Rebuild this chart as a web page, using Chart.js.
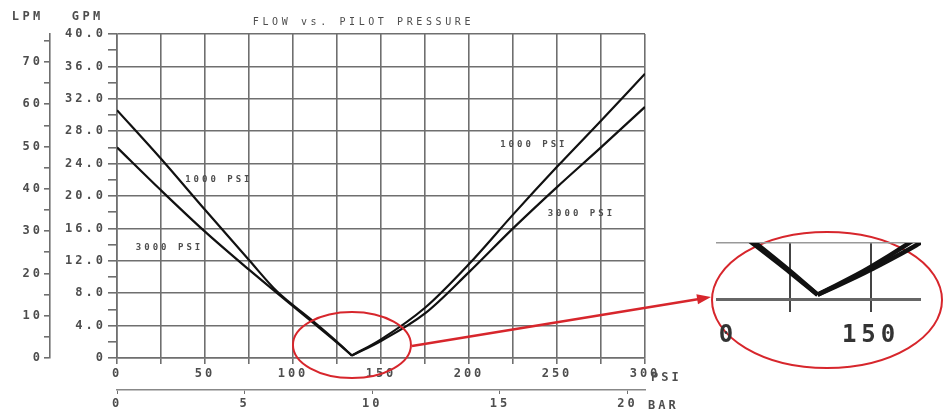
<!DOCTYPE html>
<html>
<head>
<meta charset="utf-8">
<script src="https://cdn.jsdelivr.net/npm/chart.js@4.4.0/dist/chart.umd.min.js"></script>
<style>
  html, body { margin: 0; padding: 0; background: #fff; }
  #wrap { position: relative; width: 944px; height: 417px; overflow: hidden; }
  #main { position: absolute; left: 0; top: 0; }
  #zoomBox { position: absolute; left: 650px; top: 232px; width: 294px; height: 140px;
    clip-path: inset(6px 22px 24px 66px); }
</style>
</head>
<body>
<div id="wrap">
  <canvas id="main" width="944" height="417"></canvas>
  <div id="zoomBox"><canvas id="zoom" width="294" height="140"></canvas></div>
</div>
<script>
// flow (GPM) against pilot pressure (PSI)
const psiPoints = [0, 25, 50, 75, 91, 110, 125, 133.5, 150, 175, 200, 225, 250, 275, 300];
const gpm1000 = [30.6, 24.6, 18.3, 12.1, 8.2, 4.8, 2.0, 0.3, 2.3, 6.2, 11.6, 17.7, 23.6, 29.3, 35.1];
const gpm3000 = [26.0, 20.7, 15.6, 10.9, 8.0, 4.6, 1.9, 0.3, 2.1, 5.5, 10.6, 16.0, 21.1, 26.0, 31.0];
const seriesNames = ["1000 PSI", "3000 PSI"];
const minIndex = 7;           // the V bottom, where both branches meet

const psiMax = 300;
const gpmMax = 40;
const lpmMax = 76.6;          // the LPM scale as printed on the sheet
const psiPerBar = 14.5038;

const GRID = "#6f6f6f";
const TEXT = "#4d4d4d";
const RED = "#d7262c";

Chart.defaults.font.family = "'DejaVu Sans Mono', monospace";
Chart.defaults.color = TEXT;

function toPts(ys, from, to) {
    return psiPoints.slice(from, to).map((p, i) => ({x: p, y: ys[from + i]}));
}

function spaced(ctx, text, x, y, font, sp, align) {
    ctx.save();
    ctx.font = font;
    ctx.letterSpacing = sp + "px";
    ctx.fillStyle = TEXT;
    ctx.textAlign = align || "center";
    ctx.textBaseline = "middle";
    let dx = align === "left" ? 0 : sp / 2;
    ctx.fillText(text, x + dx, y);
    ctx.restore();
}

function letterSpacing(px) {
    return {
        id: "letterSpacing",
        beforeLayout(c) { c.ctx.letterSpacing = px; },
        beforeDraw(c) { c.ctx.letterSpacing = px; }
    };
}

const notes = {
    id: "notes",
    afterDraw(chart) {
        const ctx = chart.ctx;
        const x = chart.scales.x, y = chart.scales.y;

        spaced(ctx, "FLOW vs. PILOT PRESSURE", x.getPixelForValue(139), 22, "10px 'DejaVu Sans Mono'", 3.6);
        spaced(ctx, "LPM", 26, 17, "bold 12px 'DejaVu Sans Mono'", 3.5);
        spaced(ctx, "GPM", 86, 17, "bold 12px 'DejaVu Sans Mono'", 3.5);

        const spots = [[57, 22.0], [29, 13.6], [236, 26.3], [263, 17.8]];
        spots.forEach((s, i) => {
            spaced(ctx, seriesNames[i % 2], x.getPixelForValue(s[0]), y.getPixelForValue(s[1]),
                "bold 9px 'DejaVu Sans Mono'", 3);
        });

        spaced(ctx, "PSI", x.right + 6, x.top + 20, "bold 12px 'DejaVu Sans Mono'", 3, "left");
        spaced(ctx, "BAR", x.right + 3, 406, "bold 12px 'DejaVu Sans Mono'", 3, "left");

        // red call-out round the minimum, and the arrow to the enlargement
        const cx = x.getPixelForValue(133.5), cy = y.getPixelForValue(1.6);
        ctx.save();
        ctx.strokeStyle = RED;
        ctx.fillStyle = RED;
        ctx.lineWidth = 2;
        ctx.beginPath();
        ctx.ellipse(cx, cy, 59, 33, 0, 0, Math.PI * 2);
        ctx.stroke();

        ctx.beginPath();
        ctx.ellipse(827, 300, 115, 68, 0, 0, Math.PI * 2);
        ctx.stroke();

        const x0 = cx + 60, y0 = cy + 1, x1 = 711, y1 = 297;
        const a = Math.atan2(y1 - y0, x1 - x0);
        ctx.lineWidth = 2.5;
        ctx.beginPath();
        ctx.moveTo(x0, y0);
        ctx.lineTo(x1 - 12 * Math.cos(a), y1 - 12 * Math.sin(a));
        ctx.stroke();
        ctx.beginPath();
        ctx.moveTo(x1, y1);
        ctx.lineTo(x1 - 14 * Math.cos(a) + 5 * Math.sin(a), y1 - 14 * Math.sin(a) - 5 * Math.cos(a));
        ctx.lineTo(x1 - 14 * Math.cos(a) - 5 * Math.sin(a), y1 - 14 * Math.sin(a) + 5 * Math.cos(a));
        ctx.closePath();
        ctx.fill();
        ctx.restore();
    }
};

// each curve is drawn as two branches so the bottom of the V stays sharp
function curveSets(name, ys, width) {
    const base = {
        label: name,
        borderColor: "#111",
        borderWidth: width,
        pointRadius: 0,
        cubicInterpolationMode: "monotone",
        xAxisID: "x",
        yAxisID: "y"
    };
    return [
        Object.assign({}, base, {data: toPts(ys, 0, minIndex + 1)}),
        Object.assign({}, base, {data: toPts(ys, minIndex, psiPoints.length)})
    ];
}

const tickFont = {size: 12, weight: "bold", family: "'DejaVu Sans Mono'"};

new Chart(document.getElementById("main"), {
    type: "line",
    data: {
        datasets: [
            ...curveSets(seriesNames[0], gpm1000, 2.2),
            ...curveSets(seriesNames[1], gpm3000, 2.2)
        ]
    },
    options: {
        responsive: false,
        animation: false,
        layout: {padding: {left: 0, top: 34, right: 299, bottom: 0}},
        plugins: {legend: {display: false}, tooltip: {enabled: false}},
        scales: {
            x: {
                type: "linear", position: "bottom", weight: 0,
                min: 0, max: psiMax,
                afterFit: s => { s.height = 32; },
                ticks: {
                    stepSize: 25, autoSkip: false, maxRotation: 0, padding: 3,
                    font: tickFont, color: TEXT,
                    callback: v => (v % 50 === 0 ? String(v) : "")
                },
                grid: {color: GRID, lineWidth: 1.6, tickLength: 6},
                border: {color: GRID, width: 1.6}
            },
            bar: {
                type: "linear", position: "bottom", weight: 1,
                min: 0, max: psiMax / psiPerBar,
                afterFit: s => { s.height = 27; },
                ticks: {
                    stepSize: 5, autoSkip: false, maxRotation: 0, padding: 3, includeBounds: false,
                    font: tickFont, color: TEXT,
                    callback: v => String(v)
                },
                grid: {drawOnChartArea: false, tickLength: 4, color: GRID},
                border: {color: "#888", width: 1.6}
            },
            y: {
                type: "linear", position: "left", weight: 0,
                min: 0, max: gpmMax,
                afterFit: s => { s.width = 67; },
                ticks: {
                    stepSize: 2, autoSkip: false, padding: 2,
                    font: tickFont, color: TEXT,
                    callback: v => (v % 4 === 0 ? (v === 0 ? "0" : v.toFixed(1)) : "")
                },
                grid: {
                    lineWidth: 1.6, tickLength: 9,
                    color: c => (c.tick && c.tick.value % 4 === 0 ? GRID : "rgba(0,0,0,0)"),
                    tickColor: GRID
                },
                border: {color: GRID, width: 1.6}
            },
            lpm: {
                type: "linear", position: "left", weight: 1,
                min: 0, max: lpmMax,
                afterFit: s => { s.width = 50; },
                ticks: {
                    stepSize: 5, autoSkip: false, padding: 1, includeBounds: false,
                    font: tickFont, color: TEXT,
                    callback: v => (v % 10 === 0 ? String(v) : "")
                },
                grid: {drawOnChartArea: false, tickLength: 6, lineWidth: 1.6, color: GRID},
                border: {color: GRID, width: 1.6}
            }
        }
    },
    plugins: [letterSpacing("3px"), notes]
});

// enlargement of the area round the minimum
new Chart(document.getElementById("zoom"), {
    type: "line",
    data: {
        datasets: [
            ...curveSets(seriesNames[0], gpm1000, 4.5),
            ...curveSets(seriesNames[1], gpm3000, 4.5)
        ]
    },
    options: {
        responsive: false,
        animation: false,
        layout: {padding: {left: 59, top: 11, right: 23, bottom: 0}},
        plugins: {legend: {display: false}, tooltip: {enabled: false}},
        scales: {
            x: {
                type: "linear", min: 100, max: 165.4,
                afterFit: s => { s.height = 73; },
                ticks: {
                    stepSize: 25, autoSkip: false, maxRotation: 0, padding: 9, includeBounds: false,
                    font: {size: 24, weight: "bold", family: "'DejaVu Sans Mono'"}, color: "#333",
                    callback: v => (v % 50 === 0 ? String(v) : "")
                },
                grid: {lineWidth: 2, tickLength: 13, color: "#444"},
                border: {display: false}
            },
            y: {
                type: "linear", min: 0, max: 4,
                afterFit: s => { s.width = 0; },
                ticks: {stepSize: 4, display: false},
                grid: {
                    drawTicks: false,
                    color: c => (c.tick && c.tick.value === 0 ? "#666" : "#999"),
                    lineWidth: c => (c.tick && c.tick.value === 0 ? 3 : 1.5)
                },
                border: {display: false}
            }
        }
    },
    plugins: [letterSpacing("5px")]
});
</script>
</body>
</html>
